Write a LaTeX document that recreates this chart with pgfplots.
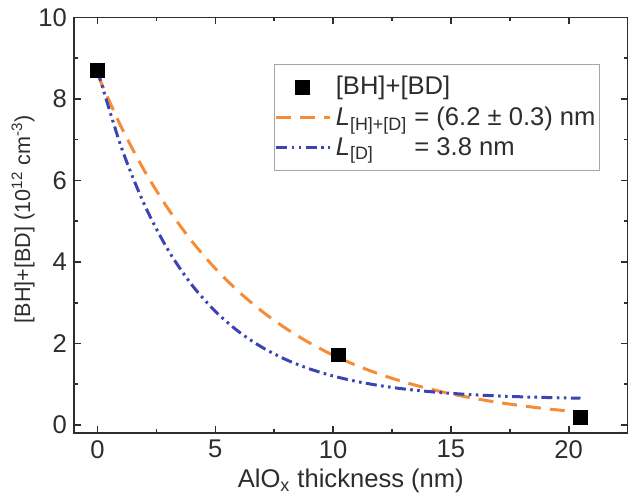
\documentclass[border=0pt]{standalone}
\usepackage{fontspec}
\setmainfont{Liberation Sans}
\usepackage{pgfplots}
\pgfplotsset{compat=1.18}

\definecolor{fitorange}{RGB}{247,140,55}
\definecolor{fitblue}{RGB}{58,68,178}
\definecolor{axgray}{RGB}{45,45,45}

\begin{document}
\begin{tikzpicture}
\begin{axis}[
    scale only axis,
    width=277pt, height=208pt,
    xmin=-1, xmax=22.5,
    ymin=-0.2, ymax=10,
    xtick={0,5,10,15,20},
    ytick={0,2,4,6,8,10},
    minor x tick num=1,
    minor y tick num=1,
    tick align=inside,
    major tick length=3.5pt,
    minor tick length=2pt,
    axis line style={axgray, line width=0.8pt},
    every tick/.style={axgray, line width=0.8pt},
    /pgf/number format/assume math mode=true,
    ticklabel style={font=\fontsize{12.8}{15}\selectfont, text=axgray},
    xlabel={AlO\textsubscript{x} thickness (nm)},
    ylabel={[BH]+[BD] (10\textsuperscript{12} cm\textsuperscript{-3})},
    xlabel style={font=\fontsize{12.8}{15}\selectfont, text=axgray,
        at={(axis description cs:0.5,0)}, anchor=center, yshift=-24pt},
    ylabel style={font=\fontsize{10.8}{13}\selectfont, text=axgray,
        at={(axis description cs:-0.092,0.515)}, anchor=center},
    legend style={at={(0.95,0.888)}, anchor=north east, draw=gray!70,
        font=\fontsize{12.8}{15}\selectfont, text=axgray,
        row sep=0.5pt, inner ysep=4pt, inner xsep=0pt, cells={anchor=west}},
    legend image code/.code={\draw[#1] (-2pt,0pt) -- (25pt,0pt);},
]
\addplot[only marks, mark=square*, mark size=3.4pt, black,
    legend image code/.code={\draw[only marks, mark=square*, mark size=3.4pt, black] plot coordinates {(11pt,0pt)};}]
    coordinates {(0,8.70) (10.23,1.72) (20.5,0.19)};
\addlegendentry{[BH]+[BD]}

\addplot[fitorange, line width=1.5pt, smooth, dash pattern=on 7.5pt off 4.5pt]
    coordinates {
    (0,8.600) (1,7.319) (2,6.229) (3,5.301) (4,4.511) (5,3.839) (6,3.267)
    (7,2.781) (8,2.367) (9,2.014) (10,1.714) (11,1.459) (12,1.241) (13,1.056)
    (14,0.899) (15,0.765) (16,0.651) (17,0.554) (18,0.472) (19,0.401)
    (20,0.342) (20.5,0.315)};
\addlegendentry{\textit{L}\textsubscript{[H]+[D]} = (6.2 ± 0.3) nm}

\addplot[fitblue, line width=1.5pt, smooth, dash pattern=on 5.5pt off 2.2pt on 1.3pt off 2.2pt on 1.3pt off 2.2pt]
    coordinates {
    (0,8.700) (1,6.831) (2,5.394) (3,4.289) (4,3.440) (5,2.788) (6,2.286)
    (7,1.901) (8,1.604) (9,1.377) (10,1.202) (11,1.067) (12,0.964) (13,0.884)
    (14,0.823) (15,0.776) (16,0.740) (17,0.712) (18,0.691) (19,0.675)
    (20,0.662) (20.5,0.657)};
\addlegendentry{\rlap{\textit{L}\textsubscript{[D]}}\phantom{\textit{L}\textsubscript{[H]+[D]}} = 3.8 nm}
\end{axis}
\pgfresetboundingbox
\path[use as bounding box] ([shift={(-37pt,-32.2pt)}]current axis.south west)
    rectangle ([shift={(0.7pt,8.7pt)}]current axis.north east);
\end{tikzpicture}
\end{document}
